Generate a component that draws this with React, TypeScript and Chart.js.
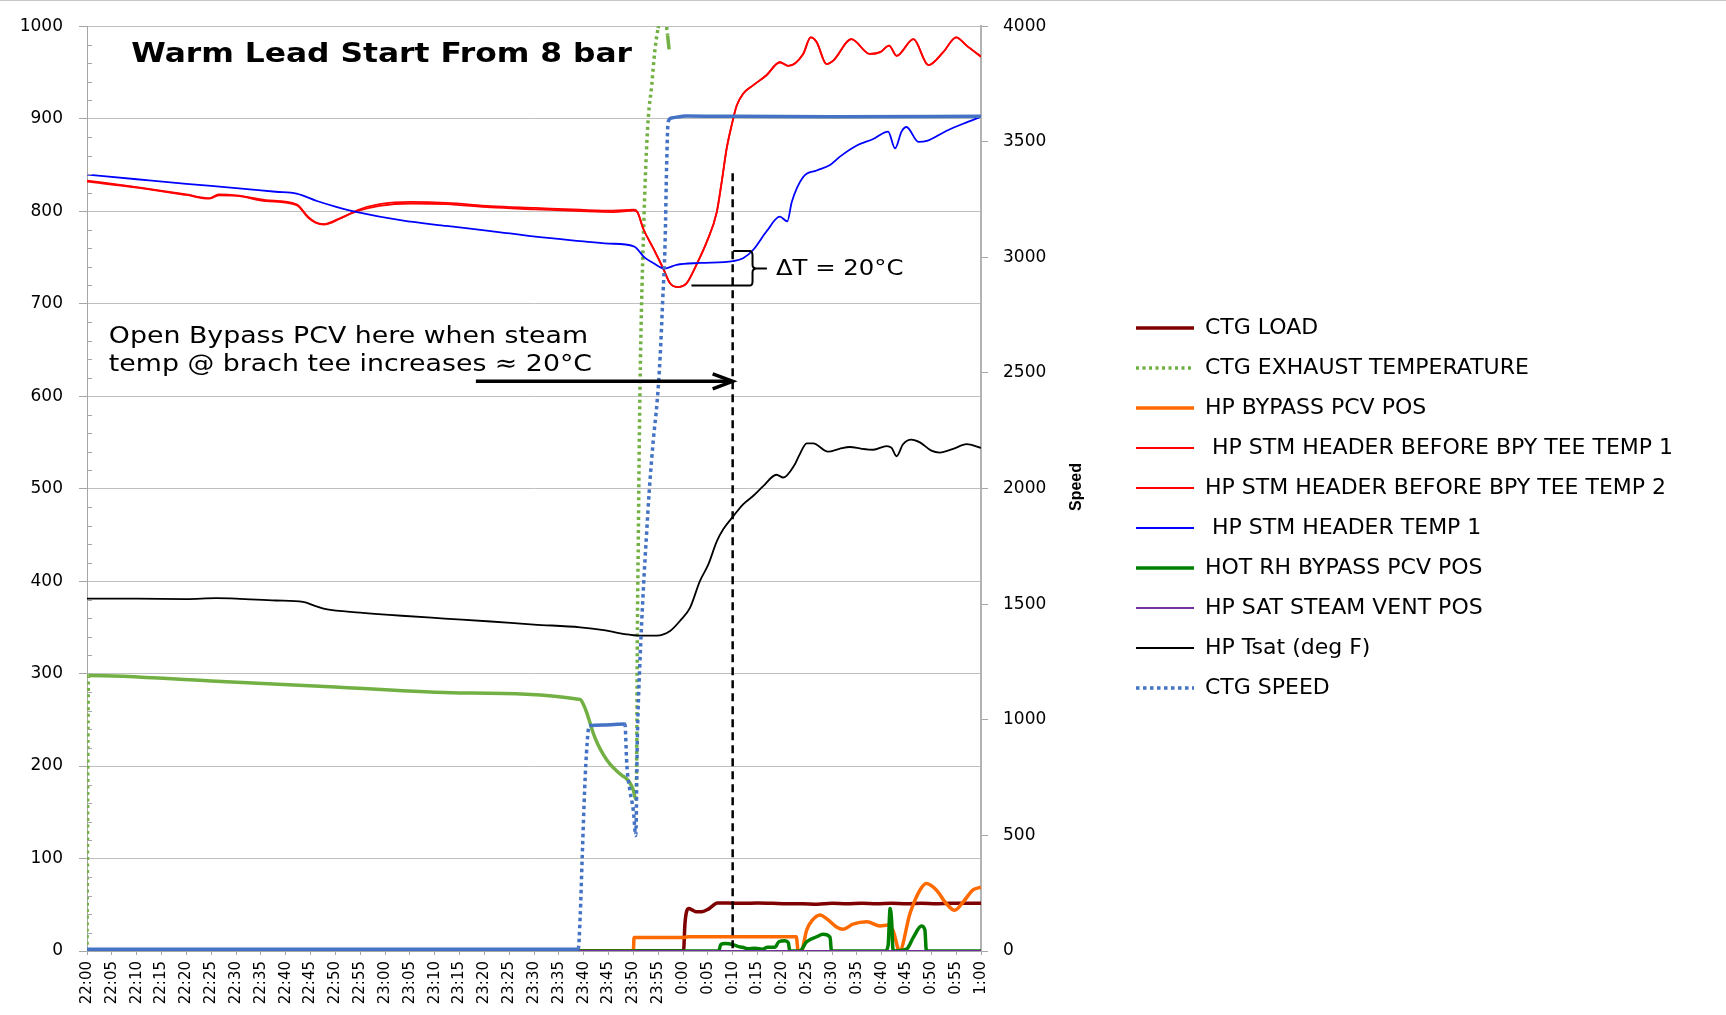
import React, { useEffect, useRef } from 'react';
import { Chart, registerables } from 'chart.js';

Chart.register(...registerables);

// ---------- tick labels ----------
const timeLabels = [
  '22:00', '22:05', '22:10', '22:15', '22:20', '22:25', '22:30', '22:35', '22:40', '22:45',
  '22:50', '22:55', '23:00', '23:05', '23:10', '23:15', '23:20', '23:25', '23:30', '23:35',
  '23:40', '23:45', '23:50', '23:55', '0:00', '0:05', '0:10', '0:15', '0:20', '0:25',
  '0:30', '0:35', '0:40', '0:45', '0:50', '0:55', '1:00',
];

// ---------- series (time in minutes after 22:00) ----------
const loadT = [0, 120.1, 120.4, 120.8, 121.2, 121.8, 122.6, 123.8, 125.0, 126.0, 126.9, 129, 132, 135, 138, 141, 144, 147, 150, 153, 156, 159, 162, 165, 168, 171, 174, 177, 180];
const loadV = [0, 0, 30, 44, 46, 44.5, 42.5, 42.5, 45, 49, 52, 52, 51.5, 52, 51.5, 51, 51, 50.5, 51.5, 51, 51.5, 51, 51.5, 51, 51.5, 51, 51.5, 51.5, 51.5];

const exhT = [0, 0.3, 25, 50, 75, 99.3, 100, 100.6, 101.2, 101.9, 102.8, 104, 105.3, 106.6, 107.7, 108.7, 109.5, 110, 110.5, 110.7, 110.8, 111, 111.2, 111.5, 112, 112.5, 113, 113.7, 114.3, 115, 115.8, 116.5, 116.9, 117.2];
const exhV = [0, 298, 292, 285.5, 279, 272, 266, 258, 248, 236, 224, 212, 202, 195, 190, 186, 180, 174, 164, 228, 335, 443, 551, 659, 767, 848, 900, 936, 972, 998, 1012, 1006, 990, 975];

const bypT = [0, 110.0, 110.15, 120, 121, 142.8, 143.2, 143.8, 144.9, 146, 147.6, 148.9, 150.9, 152.2, 154.2, 157, 159.7, 161.3, 162.3, 163.6, 165.7, 167.7, 169, 171, 173, 174.7, 176.4, 178.4, 180];
const bypV = [0, 0, 14.5, 14.5, 15.3, 15.3, 0, 0, 22.6, 33, 38.8, 35, 26, 23.4, 29, 31.6, 27, 28, 22, 0, 40.6, 65.8, 73, 66, 51.4, 44, 53, 66, 69];

const hdr1T = [0, 10, 20, 24.7, 26.5, 30.1, 36, 42.2, 44.5, 46, 47.7, 50.8, 54.4, 58.9, 65.2, 72.4, 81.3, 90.3, 99.3, 106, 110.1, 110.8, 112, 114, 116, 117.4, 118.8, 120.7, 122.7, 124.8, 126.8, 127.8, 128.8, 129.8, 130.8, 132.1, 134.1, 136.8, 139.5, 141.2, 144.2, 145.7, 146.9, 148.9, 150.3, 153.9, 157.6, 159.7, 161.5, 163, 166.4, 169.4, 172.4, 175, 177.1, 180];
const hdr1V = [833, 826, 818, 814, 818, 817, 812, 807.5, 794, 788, 786, 792, 800, 805.8, 808.3, 807.6, 804, 802, 800, 799, 800.5, 799, 781, 760, 738, 722, 718, 722, 742, 767, 799, 832, 868, 893, 914, 927, 936, 947, 961, 957, 970, 988, 983, 959, 963, 986, 970, 972, 979, 968, 986, 958, 972, 988, 979, 967];

const hdr2T = [0, 10, 20, 24.7, 26.5, 30.1, 36, 42.2, 44.5, 46, 47.7, 50.8, 54.4, 58.9, 65.2, 72.4, 81.3, 90.3, 99.3, 106, 110.1, 110.8, 112, 114, 116, 117.4, 118.8, 120.7, 122.7, 124.8, 126.8, 127.8, 128.8, 129.8, 130.8, 132.1, 134.1, 136.8, 139.5, 141.2, 144.2, 145.7, 146.9, 148.9, 150.3, 153.9, 157.6, 159.7, 161.5, 163, 166.4, 169.4, 172.4, 175, 177.1, 180];
const hdr2V = [832, 825.5, 817.5, 813.5, 817, 816.5, 811, 806.5, 793, 787.5, 785.5, 791.5, 801, 807.5, 810, 809, 805.5, 803.5, 801.5, 800.5, 801.5, 799.5, 781, 760, 738.5, 722, 718, 722, 742, 767, 799, 832, 868, 893, 914, 927, 936, 947, 961, 957, 970, 988, 983, 959, 963, 986, 970, 972, 979, 968, 986, 958, 972, 988, 979, 967];

const hdrT = [0, 10, 20, 30, 38, 42.2, 46.3, 50, 54.4, 63.4, 72.4, 81.3, 90.3, 99.3, 105, 110.1, 112.3, 114, 116.2, 118.7, 123.4, 130.1, 132.1, 134.1, 136.8, 139.5, 141, 141.9, 144.2, 146.9, 149.6, 151.6, 155, 158.3, 161.3, 162.7, 164, 165, 167.4, 169.1, 173.1, 177.1, 180];
const hdrV = [839.6, 834.5, 829.5, 825, 821, 819, 811, 805, 799, 790, 784, 778.5, 772.4, 767.7, 765, 762, 749.7, 744, 738, 742, 744, 746, 749, 758, 778, 794, 789, 810, 837, 844, 850, 859, 871, 878, 886, 868, 886, 891, 875, 876, 887, 896, 902];

const hrhT = [0, 127.2, 127.6, 128.5, 130, 131, 132, 133, 134.5, 136, 137, 138.5, 139.3, 140.5, 141.2, 141.5, 143.5, 144.9, 146.9, 148.2, 149.6, 149.9, 160.7, 161.3, 161.7, 162, 162.3, 165, 166.4, 168, 168.7, 169, 180];
const hrhV = [0, 0, 7, 8, 7, 5, 4, 2.5, 3, 2, 4, 4, 10, 11, 9, 0, 0, 10, 15.4, 18, 15, 0, 0, 6, 46, 33, 0, 2, 15, 27, 22.6, 0, 0];

const ventT = [0, 180];
const ventV = [0, 0];

const tsatT = [0, 10, 20, 26, 30, 38, 43.5, 46, 48.1, 55, 63.4, 72, 81.3, 90, 99.3, 104, 108.3, 111, 114.7, 117.4, 119.4, 121.4, 123.4, 125.1, 126.8, 128.1, 130.1, 132.1, 134.1, 136.2, 138.8, 140.2, 142.5, 143.5, 144.9, 146.2, 149.2, 151.5, 153.6, 156, 158.3, 161, 162, 163, 164.3, 166, 167.7, 170, 171.7, 174.4, 177.1, 180];
const tsatV = [381, 381, 380.5, 381.5, 381, 379, 377.5, 373, 369.7, 366, 362.5, 359.5, 356.3, 353, 350, 347, 342.7, 341, 341, 346, 357, 371, 400, 418, 443, 456, 470, 483, 492, 503, 515, 512, 526, 537, 549, 549, 540, 543, 545, 543, 542, 546, 544, 535, 548, 553, 550, 541, 539, 543, 548, 544];

const spdT = [0, 98.9, 99.3, 99.7, 100.2, 100.7, 101.1, 104, 108.3, 108.7, 109.3, 110, 110.5, 110.8, 111.3, 112, 112.7, 113.2, 114, 114.8, 115.4, 115.9, 116.4, 116.7, 117, 117.7, 120.7, 130, 150, 180];
const spdV = [8, 8, 150, 400, 700, 900, 975, 978, 982, 802, 695, 608, 500, 910, 1234, 1558, 1817, 1989, 2205, 2378, 2572, 2809, 3068, 3392, 3586, 3603, 3612, 3610, 3608, 3610];

// ---------- annotation texts ----------
const TITLE_TEXT = 'Warm Lead Start From 8 bar';
const NOTE_LINES = ['Open Bypass PCV here when steam', 'temp @ brach tee increases \u2248 20\u00b0C'];
const DELTA_TEXT = '\u0394T = 20\u00b0C';

const W = 1726;
const H = 1015;

const pts = (t: number[], v: number[]) => t.map((x, i) => ({ x, y: v[i] }));

const dottedSegment = (ctx: any) => {
  const dx = Math.abs(ctx.p1.x - ctx.p0.x);
  const dy = Math.abs(ctx.p1.y - ctx.p0.y);
  return dy > 14 && dy > 2.5 * dx ? undefined : [];
};

const FONT = '"DejaVu Sans", "Noto Sans", sans-serif';

const legendShift = {
  id: 'legendShift',
  afterLayout(chart: any) {
    const lg = chart.legend;
    if (!lg) return;
    lg.left = 1118;
    lg.right = W;
    lg.top = 299;
    lg.bottom = H;
  },
};

const annotations = {
  id: 'annotations',
  afterDraw(chart: any) {
    const { ctx } = chart;
    const xs = chart.scales.x;
    const ys = chart.scales.y;
    const px = (t: number) => xs.getPixelForValue(t);
    const py = (v: number) => ys.getPixelForValue(v);
    ctx.save();

    // minor ticks on the left axis (inside)
    ctx.strokeStyle = '#a6a6a6';
    ctx.lineWidth = 1;
    const left = chart.chartArea.left;
    for (let v = 20; v < 1000; v += 20) {
      if (v % 100 === 0) continue;
      const yy = Math.round(py(v)) + 0.5;
      ctx.beginPath();
      ctx.moveTo(left, yy);
      ctx.lineTo(left + 5, yy);
      ctx.stroke();
    }

    // vertical dashed marker at 0:10
    ctx.strokeStyle = '#000';
    ctx.lineWidth = 2.5;
    ctx.setLineDash([8, 5]);
    ctx.beginPath();
    ctx.moveTo(px(130), py(841));
    ctx.lineTo(px(130), py(0));
    ctx.stroke();
    ctx.setLineDash([]);

    // arrow
    const ay = py(616);
    const ax0 = px(78.3);
    const ax1 = px(130);
    ctx.lineWidth = 3.5;
    ctx.beginPath();
    ctx.moveTo(ax0, ay);
    ctx.lineTo(ax1 - 2, ay);
    ctx.stroke();
    ctx.lineJoin = 'miter';
    ctx.beginPath();
    ctx.moveTo(ax1 - 20, ay - 7.5);
    ctx.lineTo(ax1, ay);
    ctx.lineTo(ax1 - 20, ay + 7.5);
    ctx.stroke();

    // bracket for delta T
    ctx.lineWidth = 2;
    const bx = px(134);
    ctx.beginPath();
    ctx.moveTo(px(130.1), py(757));
    ctx.lineTo(bx - 3, py(757));
    ctx.quadraticCurveTo(bx, py(757), bx, py(752));
    ctx.lineTo(bx, py(742));
    ctx.quadraticCurveTo(bx, py(738), bx + 4, py(738));
    ctx.lineTo(px(136.9), py(738));
    ctx.moveTo(bx + 4, py(738));
    ctx.quadraticCurveTo(bx, py(738), bx, py(734));
    ctx.lineTo(bx, py(724));
    ctx.quadraticCurveTo(bx, py(719.5), bx - 3, py(719.5));
    ctx.lineTo(px(121.7), py(719.5));
    ctx.stroke();

    // texts
    ctx.fillStyle = '#000';
    ctx.textAlign = 'left';
    ctx.textBaseline = 'middle';
    const drawStretched = (text: string, x: number, y: number, font: string, sx: number) => {
      ctx.save();
      ctx.translate(x, y);
      ctx.scale(sx, 1);
      ctx.font = font;
      ctx.fillText(text, 0, 0);
      ctx.restore();
    };
    drawStretched(TITLE_TEXT, px(8.9), py(968.7), 'bold 27px ' + FONT, 1.16);
    drawStretched(NOTE_LINES[0], px(4.4), py(663.4), '23px ' + FONT, 1.165);
    drawStretched(NOTE_LINES[1], px(4.4), py(633.2), '23px ' + FONT, 1.165);
    drawStretched(DELTA_TEXT, px(138.7), py(736.8), '21px ' + FONT, 1.16);

    // right axis title
    ctx.save();
    ctx.translate(1077, 487);
    ctx.rotate(-Math.PI / 2);
    ctx.textAlign = 'center';
    ctx.font = 'bold 16px "Liberation Sans", Arial, sans-serif';
    ctx.fillText('Speed', 0, 0);
    ctx.restore();

    ctx.restore();
  },
};

type DS = {
  label: string;
  t: number[];
  v: number[];
  color: string;
  width: number;
  dash?: number[];
  axis?: string;
};

const seriesDefs: DS[] = [
  { label: 'CTG LOAD', t: loadT, v: loadV, color: '#7f0000', width: 3.5 },
  { label: 'CTG EXHAUST TEMPERATURE', t: exhT, v: exhV, color: '#72b043', width: 3.5, dash: [3, 3.5] },
  { label: 'HP BYPASS PCV POS', t: bypT, v: bypV, color: '#ff6a00', width: 3.5 },
  { label: ' HP STM HEADER BEFORE BPY TEE TEMP 1', t: hdr1T, v: hdr1V, color: '#ff0000', width: 1.8 },
  { label: 'HP STM HEADER BEFORE BPY TEE TEMP 2', t: hdr2T, v: hdr2V, color: '#ff0000', width: 1.8 },
  { label: ' HP STM HEADER TEMP 1', t: hdrT, v: hdrV, color: '#0000ff', width: 1.8 },
  { label: 'HOT RH BYPASS PCV POS', t: hrhT, v: hrhV, color: '#008000', width: 3.5 },
  { label: 'HP SAT STEAM VENT POS', t: ventT, v: ventV, color: '#7030a0', width: 1.8 },
  { label: 'HP Tsat (deg F)', t: tsatT, v: tsatV, color: '#000000', width: 1.8 },
  { label: 'CTG SPEED', t: spdT, v: spdV, color: '#4472c4', width: 3.5, dash: [3.5, 3.5], axis: 'y2' },
];

export default function App() {
  const ref = useRef<HTMLCanvasElement>(null);

  useEffect(() => {
    if (!ref.current) return;
    const n = seriesDefs.length;
    const datasets = seriesDefs.map((s, i) => ({
      label: s.label,
      data: pts(s.t, s.v),
      borderColor: s.color,
      backgroundColor: s.color,
      borderWidth: s.width,
      borderDash: s.dash || [],
      pointRadius: 0,
      cubicInterpolationMode: 'monotone' as const,
      yAxisID: s.axis || 'y',
      order: n - i,
      segment: s.dash ? { borderDash: dottedSegment } : undefined,
    }));

    const chart = new Chart(ref.current, {
      type: 'line',
      data: { datasets },
      plugins: [legendShift, annotations],
      options: {
        responsive: false,
        animation: false,
        devicePixelRatio: 1,
        events: [],
        layout: { padding: { top: 24, right: 95, bottom: 0, left: 0 } },
        plugins: {
          tooltip: { enabled: false },
          legend: {
            position: 'right',
            align: 'start',
            maxWidth: 500,
            labels: {
              usePointStyle: true,
              pointStyleWidth: 58,
              padding: 18,
              color: '#000',
              font: { family: FONT, size: 22 },
              generateLabels: (c: any) =>
                c.data.datasets.map((ds: any, i: number) => ({
                  text: ds.label,
                  fillStyle: ds.borderColor,
                  strokeStyle: ds.borderColor,
                  lineWidth: ds.borderWidth,
                  lineDash: ds.borderDash || [],
                  lineCap: 'butt',
                  pointStyle: 'line',
                  hidden: false,
                  datasetIndex: i,
                  fontColor: '#000',
                })),
            },
          },
        },
        scales: {
          x: {
            type: 'linear',
            min: 0,
            max: 180,
            afterFit: (s: any) => { s.height = 64; },
            ticks: {
              stepSize: 5,
              autoSkip: false,
              minRotation: 90,
              maxRotation: 90,
              padding: 6,
              color: '#000',
              font: { family: FONT, size: 15 },
              callback: (_v: any, i: number) => timeLabels[i],
            },
            grid: { drawOnChartArea: false, tickLength: 4, tickColor: '#a6a6a6' },
            border: { color: '#a6a6a6' },
          },
          y: {
            position: 'left',
            min: 0,
            max: 1000,
            afterFit: (s: any) => { s.width = 87; },
            ticks: {
              stepSize: 100,
              padding: 16,
              color: '#000',
              font: { family: FONT, size: 17 },
              callback: (v: any) => String(v),
            },
            grid: { color: '#bfbfbf', tickColor: '#a6a6a6', tickLength: 8 },
            border: { color: '#a6a6a6' },
          },
          y2: {
            position: 'right',
            min: 0,
            max: 4000,
            afterFit: (s: any) => { s.width = 150; },
            ticks: {
              stepSize: 500,
              padding: 15,
              color: '#000',
              font: { family: FONT, size: 17 },
              callback: (v: any) => String(v),
            },
            grid: { drawOnChartArea: false, tickLength: 7, tickColor: '#a6a6a6' },
            border: { color: '#b3b3b3', width: 2 },
          },
        },
      },
    } as any);
    return () => chart.destroy();
  }, []);

  return (
    <div style={{ position: 'fixed', left: 0, top: 0, width: W, height: H, background: '#fff' }}>
      <canvas ref={ref} width={W} height={H} style={{ display: 'block' }} />
      <div style={{ position: 'absolute', left: 0, top: 0, width: W, height: 1, background: '#c8c8c8' }} />
    </div>
  );
}
